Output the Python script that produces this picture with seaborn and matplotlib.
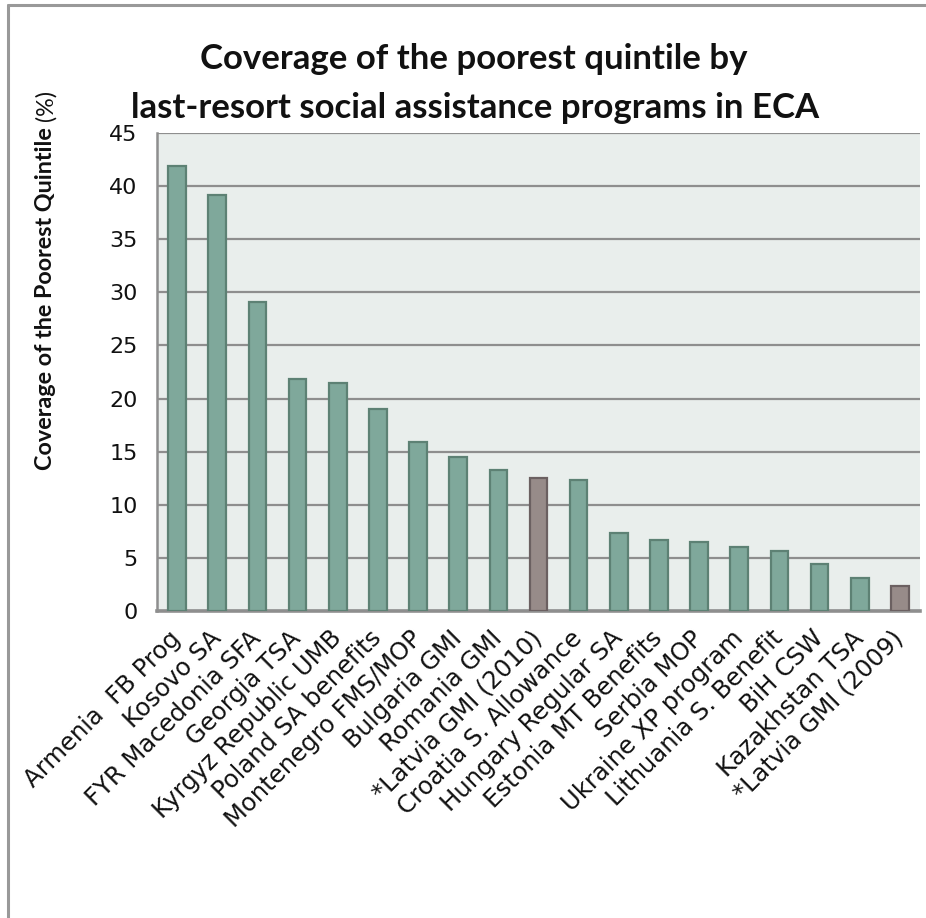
import matplotlib
matplotlib.use("Agg")
import matplotlib.pyplot as plt
import seaborn as sns
import pandas as pd
from matplotlib.lines import Line2D

# Programs, ordered by coverage of the poorest quintile
programs = [
    "Armenia  FB Prog", "Kosovo SA", "FYR Macedonia SFA", "Georgia TSA",
    "Kyrgyz Republic UMB", "Poland SA benefits", "Montenegro FMS/MOP",
    "Bulgaria GMI", "Romania GMI", "*Latvia GMI (2010)", "Croatia S. Allowance",
    "Hungary Regular SA", "Estonia MT Benefits", "Serbia MOP",
    "Ukraine XP program", "Lithuania S. Benefit", "BiH CSW",
    "Kazakhstan TSA", "*Latvia GMI (2009)",
]
coverage = [41.9, 39.2, 29.1, 21.8, 21.5, 19.0, 15.9, 14.5, 13.3, 12.5,
            12.3, 7.3, 6.65, 6.45, 6.05, 5.65, 4.4, 3.1, 2.4]
series = ["regular"] * 9 + ["latvia"] + ["regular"] * 8 + ["latvia"]
y_ticks = [0, 5, 10, 15, 20, 25, 30, 35, 40, 45]

df = pd.DataFrame({"program": programs, "coverage": coverage, "series": series})

fill = {"regular": "#7fa89b", "latvia": "#978b89"}
edge = {"regular": "#5d8174", "latvia": "#6b6061"}

sns.set_theme(style="white")
plt.rcParams["font.family"] = ["DejaVu Sans"]
text_color = "#111111"

W, H = 926, 918
fig = plt.figure(figsize=(W / 100, H / 100), dpi=100)
ax = fig.add_axes([157 / W, 1 - 611 / H, (920 - 157) / W, (611 - 133) / H])
ax.set_facecolor("#e9eeec")

sns.barplot(data=df, x="program", y="coverage", hue="series", palette=fill,
            dodge=False, width=0.44, saturation=1, legend=False,
            linewidth=1.6, ax=ax, zorder=3)

for bar in ax.patches:
    fc = matplotlib.colors.to_hex(bar.get_facecolor())
    key = "latvia" if fc == fill["latvia"] else "regular"
    bar.set_edgecolor(edge[key])

ax.set_ylim(0, 45)
ax.set_xlim(-0.5, len(programs) - 0.5)
ax.set_yticks(y_ticks)
ax.yaxis.grid(True, color="#8e8e8e", linewidth=1.6, zorder=0)
ax.set_axisbelow(True)
for side in ("top", "right"):
    ax.spines[side].set_visible(False)
ax.spines["left"].set_color("#8e8e8e")
ax.spines["left"].set_linewidth(1.8)
ax.spines["bottom"].set_color("#8e8e8e")
ax.spines["bottom"].set_linewidth(2.6)

ax.tick_params(axis="y", length=0, pad=14, labelsize=16, labelcolor=text_color)
ax.tick_params(axis="x", length=0, pad=17, labelsize=17.5, labelcolor=text_color)
ax.set_xticks(range(len(programs)))
ax.set_xticklabels(programs, rotation=45, ha="right", va="center",
                   rotation_mode="anchor")
ax.set_xlabel("")
ax.set_ylabel("")

# Axis title: bold name followed by the unit in regular weight
ylab = fig.text(46 / W, 1 - 470 / H, "Coverage of the Poorest Quintile",
                rotation=90, ha="center", va="bottom", fontsize=16.8,
                fontweight="bold", color=text_color,
                family=["Lato", "DejaVu Sans"])
fig.canvas.draw()
top_px = ylab.get_window_extent(fig.canvas.get_renderer()).y1
fig.text(46 / W, (top_px + 6) / H, "(%)", rotation=90, ha="center",
         va="bottom", fontsize=16.8, color=text_color,
         family=["Lato", "DejaVu Sans"])

# Two-line chart title
title_kw = dict(ha="center", va="baseline", fontsize=25, fontweight="bold",
                color=text_color, family=["Lato", "DejaVu Sans"])
fig.text(474 / W, 1 - 69 / H, "Coverage of the poorest quintile by", **title_kw)
fig.text(475 / W, 1 - 118 / H, "last-resort social assistance programs in ECA",
         **title_kw)

# Outer frame along the left and top edges
frame_kw = dict(color="#999999", linewidth=2.2, transform=fig.transFigure)
fig.add_artist(Line2D([8 / W, 8 / W], [0, 1 - 5 / H], **frame_kw))
fig.add_artist(Line2D([8 / W, 1], [1 - 5 / H, 1 - 5 / H], **frame_kw))

fig.savefig("out.png", dpi=100, facecolor="white")
